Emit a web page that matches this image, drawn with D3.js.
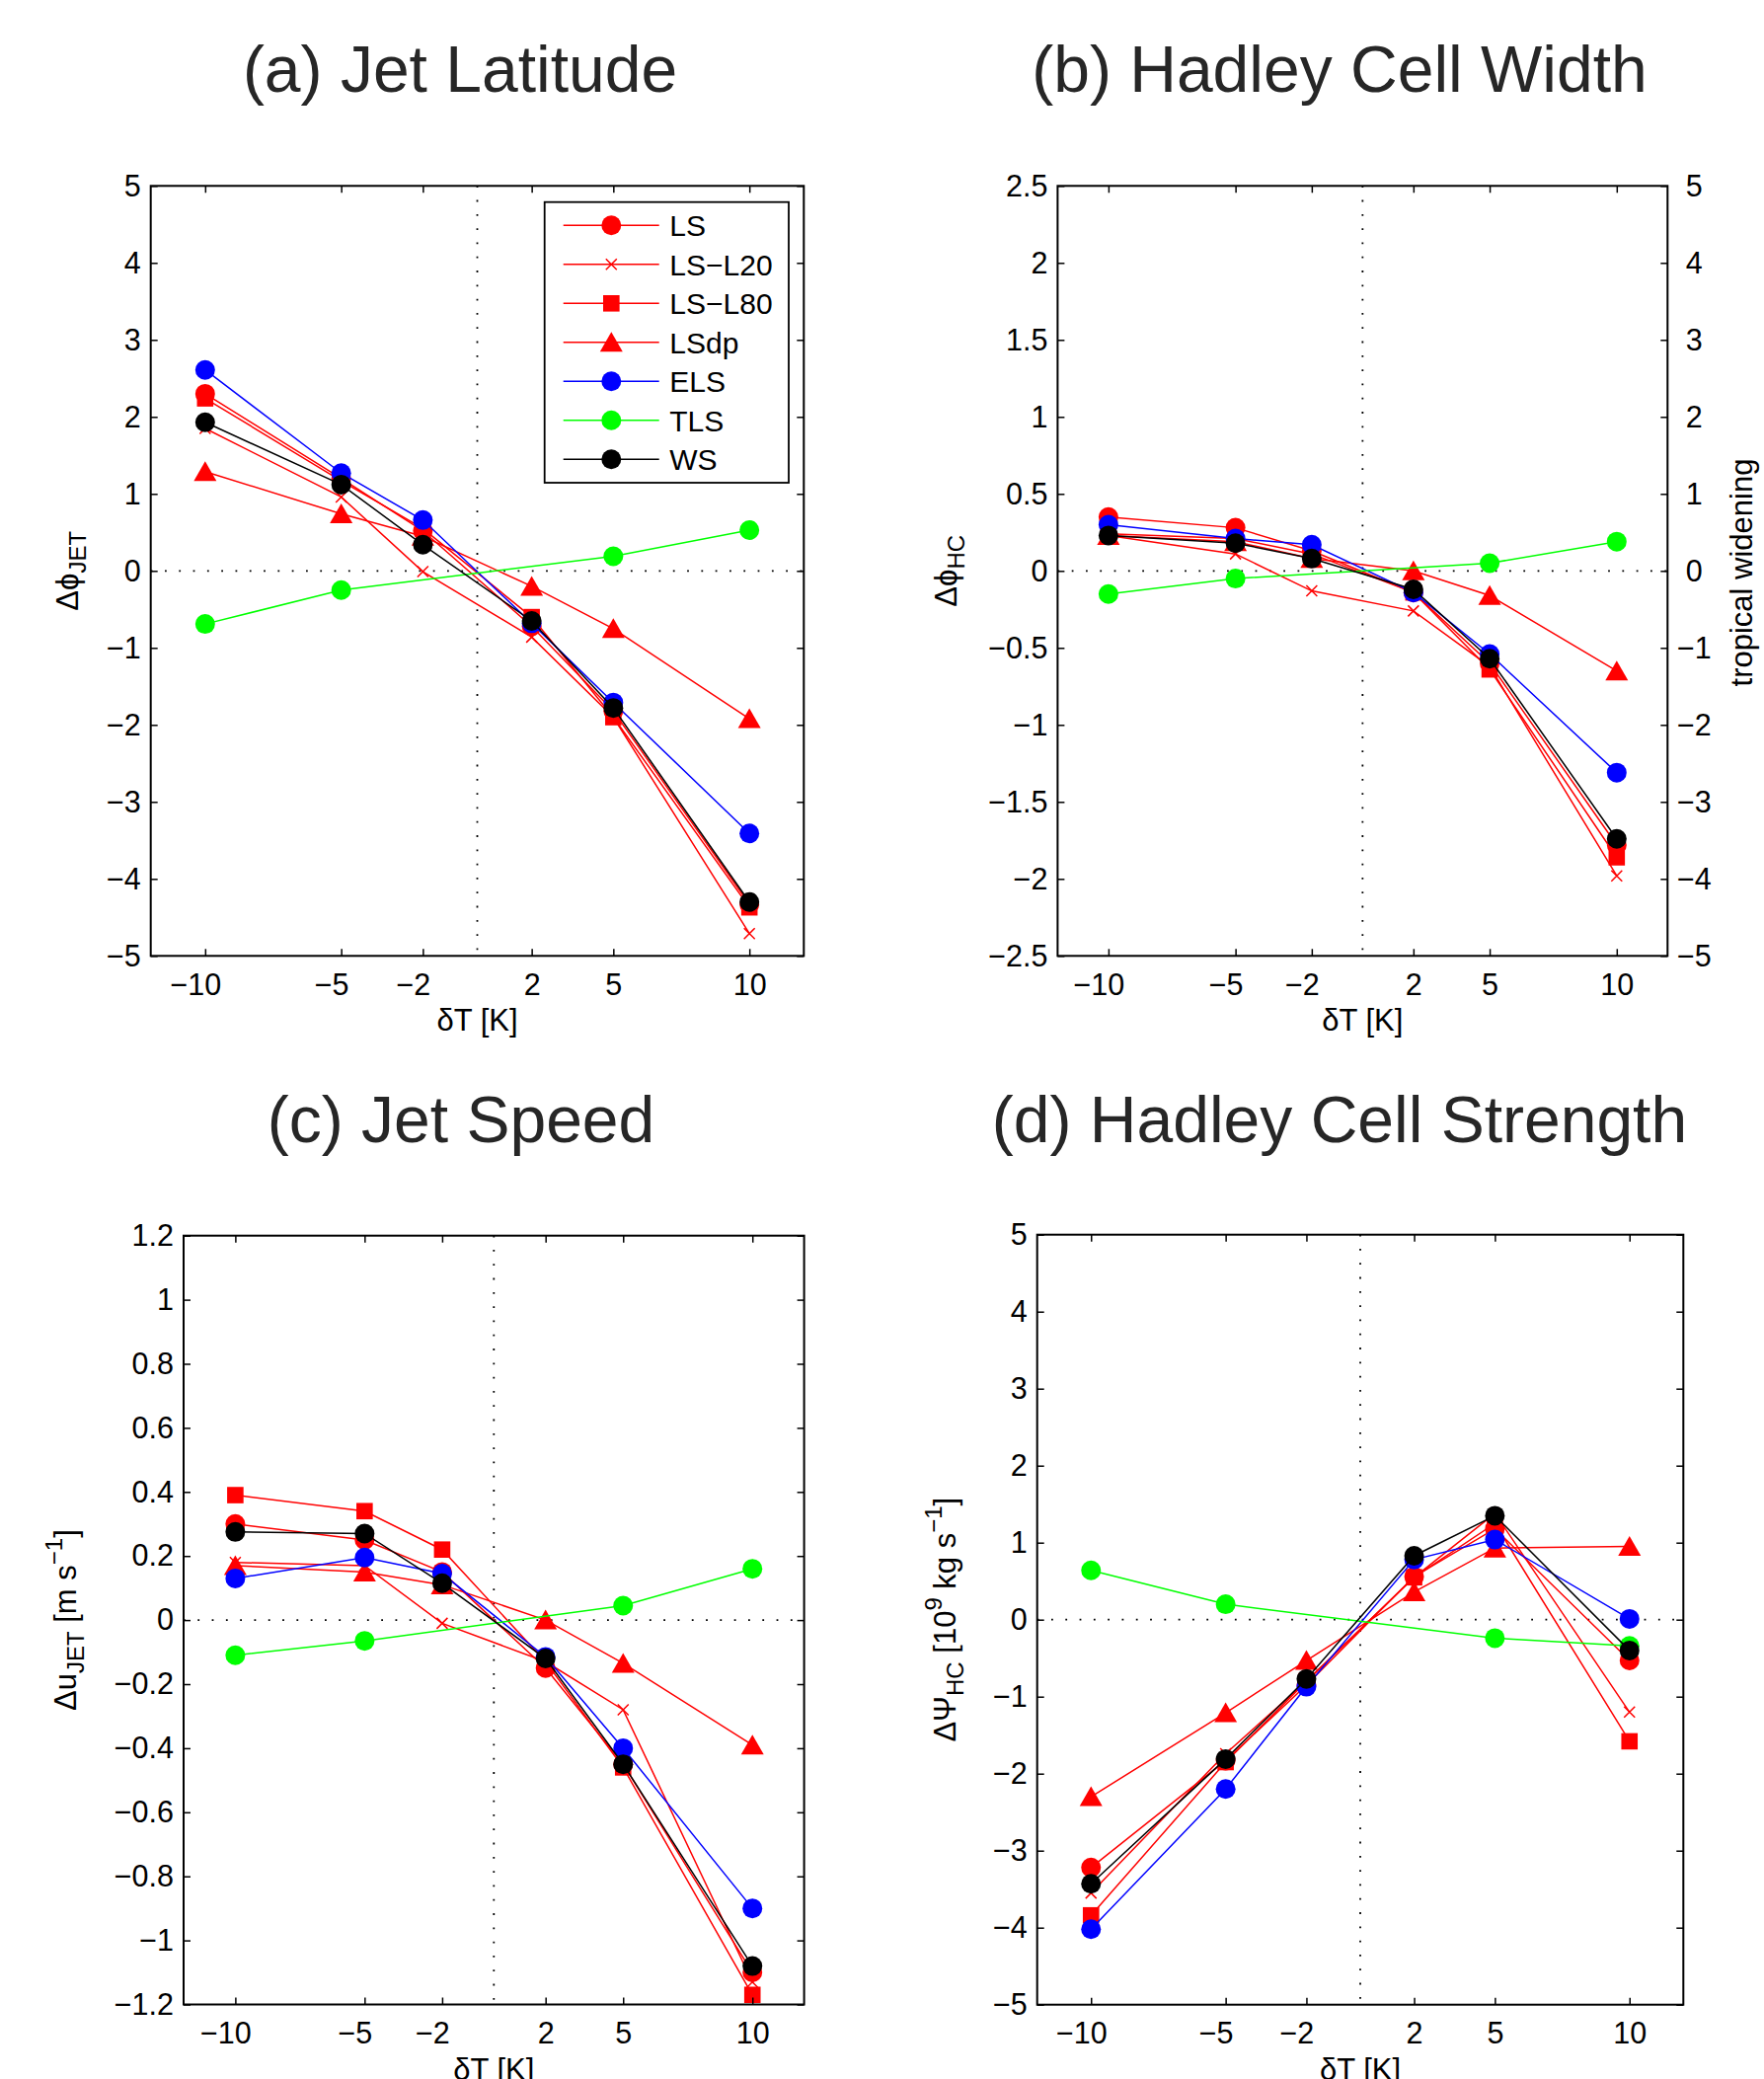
<!DOCTYPE html>
<html>
<head>
<meta charset="utf-8">
<script src="https://cdn.jsdelivr.net/npm/d3@7"></script>
<style>
body { margin: 0; background: #fff; }
text { font-family: "Liberation Sans", Arial, Helvetica, sans-serif; }
</style>
</head>
<body>
<div id="chart"></div>
<script>
// warming / cooling amount of each experiment
var dT = [-10, -5, -2, 2, 5, 10];
var xTicks = [-10, -5, -2, 2, 5, 10];

var seriesNames = ["LS", "LS\u2212L20", "LS\u2212L80", "LSdp", "ELS", "TLS", "WS"];
var seriesColors = ["#ff0000", "#ff0000", "#ff0000", "#ff0000", "#0000ff", "#00ff00", "#000000"];
var seriesMarkers = ["circle", "x", "square", "triangle", "circle", "circle", "circle"];

// rows follow seriesNames, columns follow dT (null = no run)
var jetLatitude = [
    [2.30, 1.20, 0.52, -0.72, -1.82, -4.33],
    [1.85, 0.96, -0.01, -0.86, -1.90, -4.71],
    [2.24, 1.17, 0.55, -0.60, -1.90, -4.37],
    [1.29, 0.74, 0.45, -0.20, -0.75, -1.92],
    [2.61, 1.27, 0.66, -0.68, -1.71, -3.41],
    [-0.69, -0.25, null, null, 0.19, 0.53],
    [1.93, 1.12, 0.34, -0.65, -1.78, -4.30]
];
var hadleyWidth = [
    [0.35, 0.28, 0.13, -0.14, -0.60, -1.78],
    [0.23, 0.11, -0.13, -0.26, -0.62, -1.98],
    [0.24, 0.21, 0.11, -0.14, -0.64, -1.86],
    [0.23, 0.19, 0.08, 0.00, -0.16, -0.65],
    [0.30, 0.21, 0.17, -0.14, -0.54, -1.31],
    [-0.15, -0.05, null, null, 0.05, 0.19],
    [0.23, 0.18, 0.08, -0.12, -0.57, -1.74]
];
var jetSpeed = [
    [0.30, 0.25, 0.15, -0.15, -0.45, -1.10],
    [0.18, 0.17, -0.01, -0.13, -0.28, -1.13],
    [0.39, 0.34, 0.22, -0.13, -0.46, -1.17],
    [0.17, 0.15, 0.11, 0.00, -0.135, -0.39],
    [0.13, 0.195, 0.145, -0.115, -0.40, -0.90],
    [-0.11, -0.065, null, null, 0.045, 0.16],
    [0.275, 0.27, 0.115, -0.12, -0.45, -1.08]
];
var hadleyStrength = [
    [-3.22, -1.83, -0.85, 0.56, 1.18, -0.53],
    [-3.55, -1.74, -0.80, 0.55, 1.38, -1.20],
    [-3.84, -1.85, -0.80, 0.55, 1.25, -1.58],
    [-2.30, -1.21, -0.53, 0.36, 0.93, 0.95],
    [-4.02, -2.20, -0.87, 0.78, 1.04, 0.01],
    [0.64, 0.20, null, null, -0.24, -0.34],
    [-3.43, -1.81, -0.77, 0.83, 1.35, -0.40]
];

var yTicksA = [-5, -4, -3, -2, -1, 0, 1, 2, 3, 4, 5];
var yTicksB = [-2.5, -2, -1.5, -1, -0.5, 0, 0.5, 1, 1.5, 2, 2.5];
var yTicksBRight = [-5, -4, -3, -2, -1, 0, 1, 2, 3, 4, 5];
var yTicksC = [-1.2, -1, -0.8, -0.6, -0.4, -0.2, 0, 0.2, 0.4, 0.6, 0.8, 1, 1.2];
var yTicksD = [-5, -4, -3, -2, -1, 0, 1, 2, 3, 4, 5];

var W = 1787, H = 2106;
var TICK_FS = 30.5, LABEL_FS = 31, TITLE_FS = 66, SUB_FS = 24;

function fmt(v) {
    var s = String(Math.round(v * 100) / 100);
    return s.replace("-", "\u2212");
}

var svg = d3.select("#chart")
    .append("svg")
    .attr("width", W)
    .attr("height", H)
    .style("display", "block");

svg.append("rect").attr("width", W).attr("height", H).attr("fill", "#fff");

function drawMarker(g, kind, cx, cy, color) {
    if (kind == "circle") {
        g.append("circle").attr("cx", cx).attr("cy", cy).attr("r", 10).attr("fill", color);
    } else if (kind == "square") {
        g.append("rect").attr("x", cx - 8.3).attr("y", cy - 8.3)
            .attr("width", 16.6).attr("height", 16.6).attr("fill", color);
    } else if (kind == "triangle") {
        g.append("path")
            .attr("d", "M" + cx + "," + (cy - 10.5) + "L" + (cx + 11.5) + "," + (cy + 9.5) +
                  "L" + (cx - 11.5) + "," + (cy + 9.5) + "Z")
            .attr("fill", color);
    } else if (kind == "x") {
        var s = 5.5;
        g.append("path")
            .attr("d", "M" + (cx - s) + "," + (cy - s) + "L" + (cx + s) + "," + (cy + s) +
                  "M" + (cx - s) + "," + (cy + s) + "L" + (cx + s) + "," + (cy - s))
            .attr("stroke", color).attr("stroke-width", 1.5).attr("fill", "none");
    }
}

function draw_panel(p) {
    var x = d3.scaleLinear().domain([-12, 12]).range([p.left, p.right]);
    var y = d3.scaleLinear().domain(p.yDomain).range([p.bottom, p.top]);
    var g = svg.append("g");

    // zero reference lines
    g.append("line")
        .attr("x1", x(-12)).attr("x2", x(12)).attr("y1", y(0)).attr("y2", y(0))
        .attr("stroke", "#000").attr("stroke-width", 1.8).attr("stroke-dasharray", "1.8 12.5");
    g.append("line")
        .attr("x1", x(0)).attr("x2", x(0)).attr("y1", p.top).attr("y2", p.bottom)
        .attr("stroke", "#000").attr("stroke-width", 1.8).attr("stroke-dasharray", "1.8 12.5");

    var line = d3.line().x(d => x(d[0])).y(d => y(d[1]));

    p.values.forEach(function (row, i) {
        var pts = [];
        row.forEach(function (v, j) { if (v !== null) pts.push([dT[j], v]); });
        g.append("path")
            .datum(pts)
            .attr("d", line)
            .attr("fill", "none")
            .attr("stroke", seriesColors[i])
            .attr("stroke-width", 1.5);
        pts.forEach(function (d) {
            drawMarker(g, seriesMarkers[i], x(d[0]), y(d[1]), seriesColors[i]);
        });
    });

    // axes, matlab style with inward ticks
    var ax = svg.append("g");
    var bottom = ax.append("g")
        .attr("transform", "translate(0," + p.bottom + ")")
        .call(d3.axisBottom(x).tickValues(xTicks).tickFormat(fmt)
              .tickSizeInner(-7).tickSizeOuter(0).tickPadding(18));
    bottom.selectAll("text").attr("dx", d => d < 0 ? -10 : 0);

    ax.append("g")
        .attr("transform", "translate(0," + p.top + ")")
        .call(d3.axisTop(x).tickValues(xTicks).tickFormat("")
              .tickSizeInner(-7).tickSizeOuter(0));

    ax.append("g")
        .attr("transform", "translate(" + p.left + ",0)")
        .call(d3.axisLeft(y).tickValues(p.yTicks).tickFormat(fmt)
              .tickSizeInner(-7).tickSizeOuter(0).tickPadding(10));

    if (p.rightTicks) {
        var y2 = d3.scaleLinear().domain(p.rightDomain).range([p.bottom, p.top]);
        var right = ax.append("g")
            .attr("transform", "translate(" + p.right + ",0)")
            .call(d3.axisRight(y2).tickValues(p.rightTicks).tickFormat(fmt)
                  .tickSizeInner(-7).tickSizeOuter(0).tickPadding(27));
        right.selectAll("text").attr("text-anchor", "middle");
    } else {
        ax.append("g")
            .attr("transform", "translate(" + p.right + ",0)")
            .call(d3.axisRight(y).tickValues(p.yTicks).tickFormat("")
                  .tickSizeInner(-7).tickSizeOuter(0));
    }

    ax.selectAll(".domain").remove();
    ax.selectAll(".tick line").attr("stroke", "#000").attr("stroke-width", 1.5);
    ax.selectAll("text")
        .style("font-family", "'Liberation Sans', Arial, Helvetica, sans-serif")
        .style("font-size", TICK_FS + "px")
        .attr("fill", "#000");

    ax.append("rect")
        .attr("x", p.left).attr("y", p.top)
        .attr("width", p.right - p.left).attr("height", p.bottom - p.top)
        .attr("fill", "none").attr("stroke", "#000").attr("stroke-width", 2);

    // title
    svg.append("text")
        .attr("x", p.titleX).attr("y", p.titleY)
        .attr("text-anchor", "middle")
        .style("font-size", TITLE_FS + "px")
        .attr("fill", "#262626")
        .text(p.title);

    // x label
    svg.append("text")
        .attr("x", (p.left + p.right) / 2).attr("y", p.bottom + 76)
        .attr("text-anchor", "middle")
        .style("font-size", LABEL_FS + "px")
        .text("\u03b4T [K]");

    // y label
    var yl = svg.append("text")
        .attr("transform", "translate(" + (p.left - p.ylabelOffset) + "," + ((p.top + p.bottom) / 2) + ") rotate(-90)")
        .attr("text-anchor", "middle")
        .style("font-size", LABEL_FS + "px");
    p.ylabel(yl);
}

function sub(t, main, s) {
    t.append("tspan").text(main);
    t.append("tspan").attr("dy", 8).style("font-size", SUB_FS + "px").text(s);
}

var panels = [
    {
        values: jetLatitude, left: 152.7, right: 814.3, top: 188.3, bottom: 968.3,
        yDomain: [-5, 5], yTicks: yTicksA,
        title: "(a) Jet Latitude", titleX: 466, titleY: 93, ylabelOffset: 74,
        ylabel: function (t) { sub(t, "\u0394\u03d5", "JET"); }
    },
    {
        values: hadleyWidth, left: 1071.4, right: 1689.3, top: 188.3, bottom: 968.3,
        yDomain: [-2.5, 2.5], yTicks: yTicksB,
        rightDomain: [-5, 5], rightTicks: yTicksBRight,
        title: "(b) Hadley Cell Width", titleX: 1357, titleY: 93, ylabelOffset: 102,
        ylabel: function (t) { sub(t, "\u0394\u03d5", "HC"); }
    },
    {
        values: jetSpeed, left: 186, right: 814.6, top: 1251.7, bottom: 2030.5,
        yDomain: [-1.2, 1.2], yTicks: yTicksC,
        title: "(c) Jet Speed", titleX: 467, titleY: 1157, ylabelOffset: 109,
        ylabel: function (t) {
            sub(t, "\u0394u", "JET");
            t.append("tspan").attr("dy", -8).text(" [m s");
            t.append("tspan").attr("dy", -14).style("font-size", SUB_FS + "px").text("\u22121");
            t.append("tspan").attr("dy", 14).text("]");
        }
    },
    {
        values: hadleyStrength, left: 1050.7, right: 1705.3, top: 1250.7, bottom: 2030.7,
        yDomain: [-5, 5], yTicks: yTicksD,
        title: "(d) Hadley Cell Strength", titleX: 1357, titleY: 1157, ylabelOffset: 83,
        ylabel: function (t) {
            sub(t, "\u0394\u03a8", "HC");
            t.append("tspan").attr("dy", -8).text(" [10");
            t.append("tspan").attr("dy", -14).style("font-size", SUB_FS + "px").text("9");
            t.append("tspan").attr("dy", 14).text(" kg s");
            t.append("tspan").attr("dy", -14).style("font-size", SUB_FS + "px").text("\u22121");
            t.append("tspan").attr("dy", 14).text("]");
        }
    }
];

panels.forEach(draw_panel);

// right hand label of panel (b)
svg.append("text")
    .attr("transform", "translate(1775,580) rotate(-90)")
    .attr("text-anchor", "middle")
    .style("font-size", "31px")
    .text("tropical widening");

// legend in panel (a)
var leg = svg.append("g");
leg.append("rect")
    .attr("x", 551.7).attr("y", 204.7).attr("width", 247.3).attr("height", 284.3)
    .attr("fill", "#fff").attr("stroke", "#000").attr("stroke-width", 1.8);
seriesNames.forEach(function (name, i) {
    var cy = 228.3 + i * 39.5;
    leg.append("line")
        .attr("x1", 570.7).attr("x2", 667.7).attr("y1", cy).attr("y2", cy)
        .attr("stroke", seriesColors[i]).attr("stroke-width", 1.5);
    drawMarker(leg, seriesMarkers[i], 619.3, cy, seriesColors[i]);
    leg.append("text")
        .attr("x", 678.3).attr("y", cy).attr("dy", "0.36em")
        .style("font-size", "30px")
        .text(name);
});
</script>
</body>
</html>
